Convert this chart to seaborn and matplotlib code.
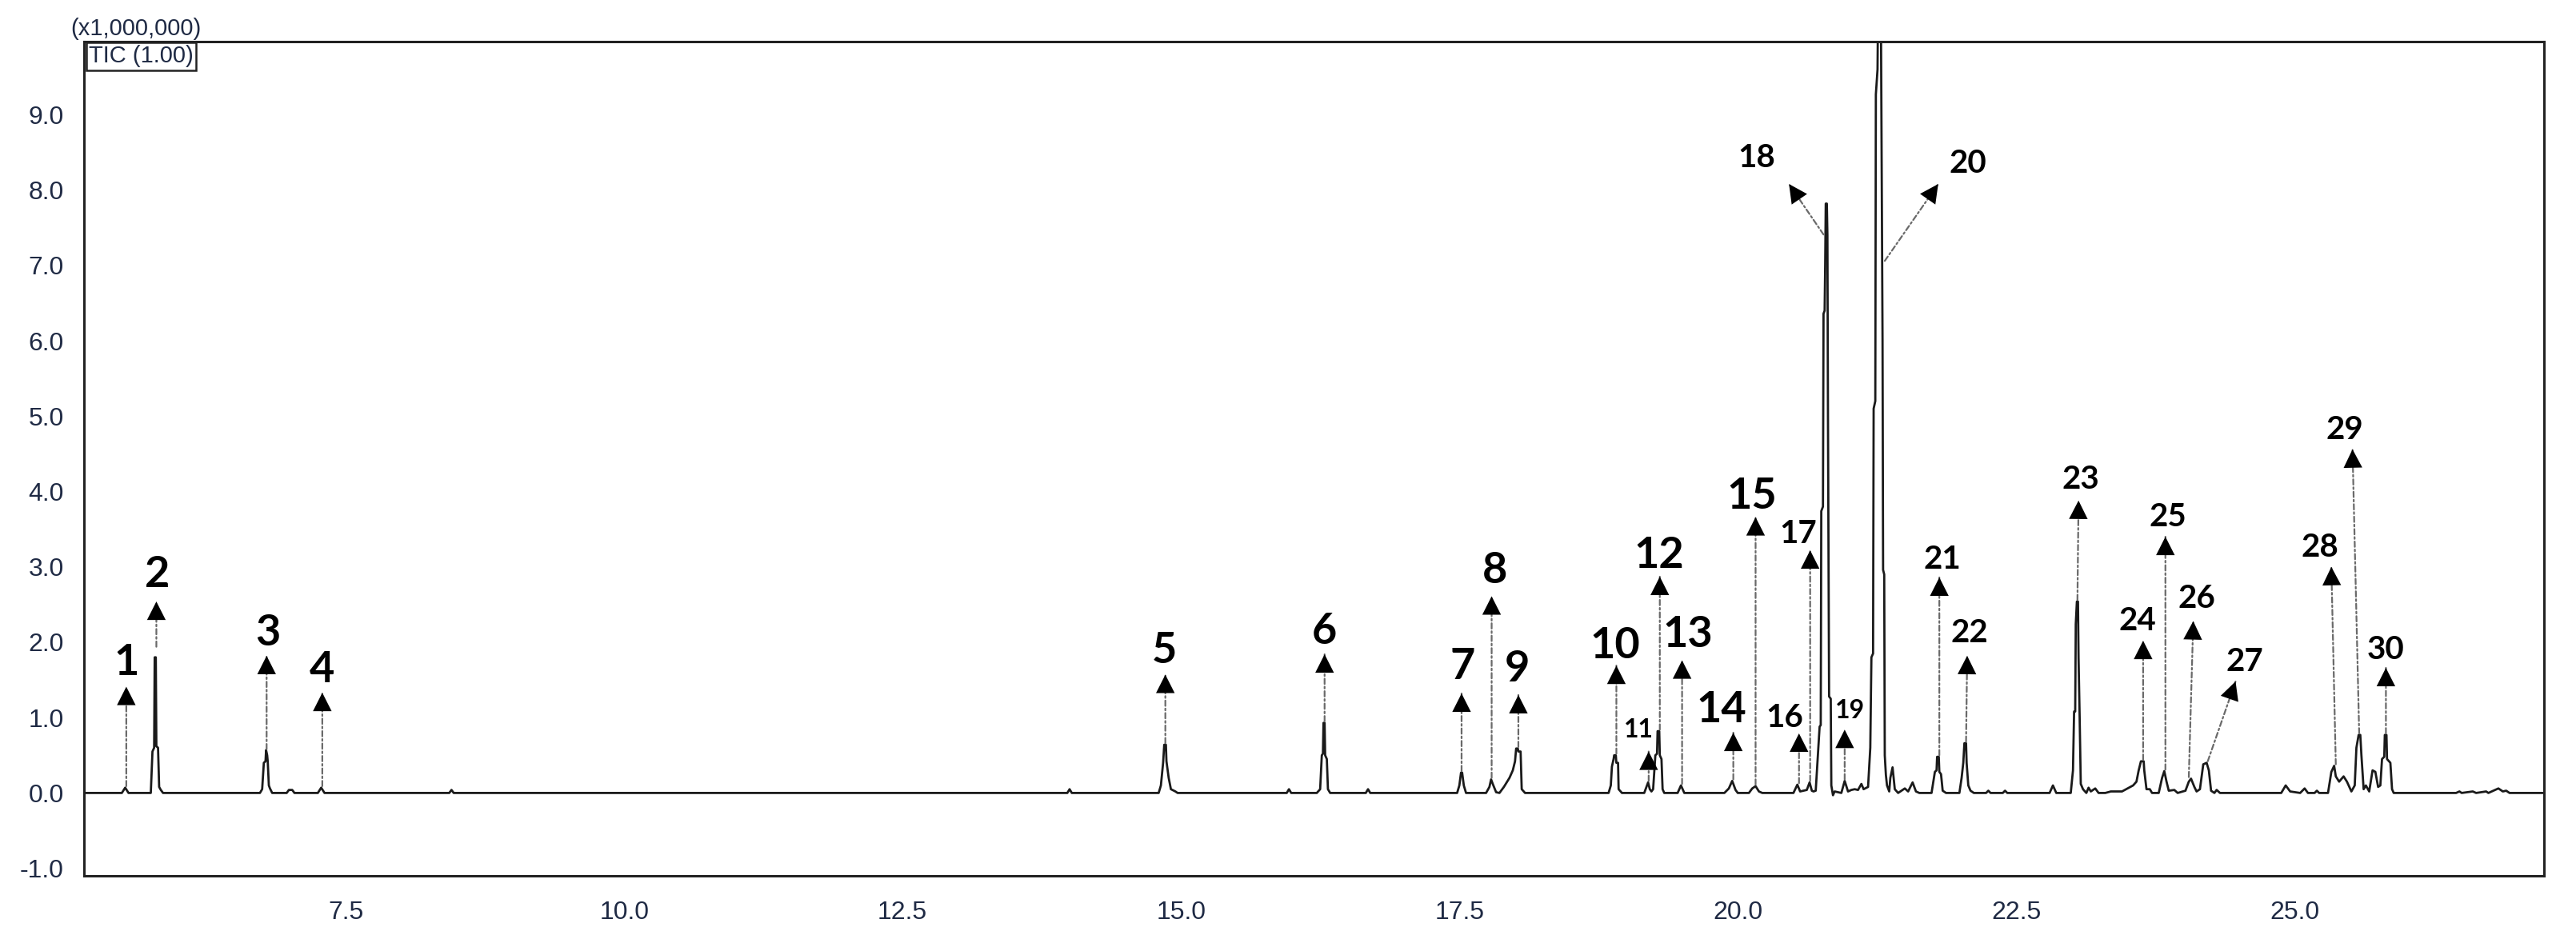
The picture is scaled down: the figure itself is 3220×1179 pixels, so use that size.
import matplotlib
matplotlib.use("Agg")
import matplotlib.pyplot as plt
from matplotlib import font_manager
from matplotlib.ticker import MultipleLocator, FormatStrFormatter
import seaborn as sns

# TIC trace: retention time (min) / intensity (x1,000,000)
rt_min = [
    5.15, 5.49, 5.52, 5.55, 5.75, 5.765, 5.78, 5.785, 5.795, 5.80, 5.815, 5.825, 5.84, 5.86,
    6.73, 6.75, 6.765, 6.78, 6.785, 6.795, 6.80, 6.81, 6.82, 6.84, 6.97, 6.99, 7.02, 7.04, 7.25, 7.28, 7.31, 8.43, 8.45, 8.47, 13.98, 14.00, 14.02,
    14.80, 14.82, 14.84, 14.85, 14.865, 14.87, 14.89, 14.91, 14.95, 14.97, 15.95, 15.97, 15.99, 16.22, 16.25, 16.265, 16.275, 16.28, 16.29, 16.295, 16.31, 16.32, 16.34, 16.66, 16.68, 16.70,
    17.48, 17.50, 17.515, 17.525, 17.54, 17.56, 17.74, 17.77, 17.785, 17.80, 17.83, 17.86, 17.90, 17.95, 17.98, 18.00, 18.01, 18.025, 18.03, 18.05, 18.06, 18.09,
    18.84, 18.86, 18.87, 18.885, 18.89, 18.905, 18.91, 18.925, 18.93, 18.96, 19.16, 19.18, 19.195, 19.21, 19.225, 19.24, 19.26, 19.275, 19.28, 19.295, 19.30, 19.315, 19.325, 19.34, 19.46, 19.49, 19.52,
    19.88, 19.92, 19.95, 19.98, 20.00, 20.10, 20.13, 20.16, 20.19, 20.22, 20.50, 20.535, 20.56, 20.62, 20.645, 20.665, 20.68,
    20.70, 20.735, 20.745, 20.75, 20.765, 20.77, 20.78, 20.785, 20.79, 20.80, 20.805, 20.81, 20.82, 20.835, 20.84, 20.855, 20.87, 20.93, 20.96, 20.99, 21.02, 21.05, 21.08, 21.11, 21.13,
    21.17, 21.19, 21.20, 21.215, 21.22, 21.235, 21.24, 21.255, 21.26, 21.285, 21.29, 21.30, 21.305, 21.315, 21.32, 21.33, 21.34,
    21.36, 21.37, 21.39, 21.41, 21.44, 21.50, 21.53, 21.57, 21.60, 21.63, 21.74, 21.77, 21.785, 21.79, 21.805, 21.81, 21.825, 21.84, 21.87, 21.99, 22.01, 22.025, 22.035, 22.05, 22.055, 22.07, 22.09, 22.12,
    22.23, 22.25, 22.27, 22.38, 22.40, 22.42, 22.80, 22.83, 22.86, 22.99, 23.01, 23.02, 23.03, 23.035, 23.045, 23.055, 23.06, 23.07, 23.08, 23.10, 23.13, 23.15, 23.17, 23.21, 23.24, 23.30, 23.35, 23.45, 23.50,
    23.55, 23.58, 23.60, 23.62, 23.645, 23.65, 23.67, 23.70, 23.72, 23.78, 23.81, 23.83, 23.85, 23.87, 23.92, 23.95, 24.02, 24.05, 24.07, 24.10, 24.12, 24.15, 24.18, 24.21, 24.23, 24.25, 24.28, 24.30, 24.33,
    24.88, 24.92, 24.96, 25.05, 25.09, 25.12, 25.18, 25.20, 25.22, 25.30, 25.33, 25.355, 25.37, 25.40, 25.44, 25.47, 25.51, 25.54, 25.555, 25.575, 25.59, 25.60, 25.62, 25.64, 25.67, 25.70, 25.725, 25.75, 25.77, 25.785, 25.805, 25.81, 25.825, 25.83, 25.86, 25.875, 25.89,
    26.45, 26.48, 26.50, 26.60, 26.63, 26.72, 26.74, 26.83, 26.87, 26.90, 26.93, 27.30,
]
tic = [
    0.00, 0.00, 0.07, 0.00, 0.00, 0.55, 0.60, 1.80, 1.80, 0.62, 0.60, 0.08, 0.04, 0.00,
    0.00, 0.05, 0.40, 0.42, 0.57, 0.50, 0.42, 0.10, 0.06, 0.00, 0.00, 0.04, 0.04, 0.00, 0.00, 0.07, 0.00, 0.00, 0.04, 0.00, 0.00, 0.05, 0.00,
    0.00, 0.10, 0.40, 0.64, 0.64, 0.42, 0.20, 0.05, 0.02, 0.00, 0.00, 0.05, 0.00, 0.00, 0.05, 0.50, 0.52, 0.93, 0.93, 0.50, 0.45, 0.05, 0.00, 0.00, 0.05, 0.00,
    0.00, 0.10, 0.27, 0.27, 0.10, 0.00, 0.00, 0.08, 0.18, 0.12, 0.01, 0.00, 0.08, 0.20, 0.30, 0.42, 0.59, 0.59, 0.55, 0.55, 0.05, 0.00,
    0.00, 0.10, 0.35, 0.45, 0.50, 0.50, 0.40, 0.40, 0.05, 0.00, 0.00, 0.08, 0.14, 0.05, 0.02, 0.05, 0.50, 0.52, 0.82, 0.82, 0.50, 0.45, 0.05, 0.00, 0.00, 0.10, 0.00,
    0.00, 0.06, 0.16, 0.04, 0.00, 0.00, 0.06, 0.09, 0.02, 0.00, 0.00, 0.11, 0.02, 0.04, 0.14, 0.03, 0.02,
    0.03, 0.88, 0.90, 3.74, 3.80, 6.36, 6.40, 7.00, 7.82, 7.82, 7.40, 5.00, 1.28, 1.25, 0.10, -0.03, 0.02, 0.00, 0.16, 0.02, 0.04, 0.05, 0.04, 0.12, 0.05,
    0.08, 0.60, 1.80, 1.85, 5.10, 5.20, 9.27, 9.60, 10.50, 10.50, 9.00, 6.00, 2.96, 2.90, 0.50, 0.24, 0.10,
    0.02, 0.20, 0.34, 0.05, 0.00, 0.06, 0.02, 0.14, 0.02, 0.00, 0.00, 0.28, 0.30, 0.48, 0.48, 0.28, 0.25, 0.03, 0.00, 0.00, 0.20, 0.40, 0.66, 0.66, 0.40, 0.10, 0.03, 0.00,
    0.00, 0.03, 0.00, 0.00, 0.03, 0.00, 0.00, 0.10, 0.00, 0.00, 0.30, 1.08, 1.08, 2.24, 2.54, 2.54, 1.80, 1.00, 0.12, 0.05, 0.00, 0.07, 0.02, 0.06, 0.00, 0.00, 0.02, 0.02, 0.06,
    0.10, 0.15, 0.30, 0.42, 0.42, 0.30, 0.05, 0.05, 0.00, 0.00, 0.20, 0.29, 0.15, 0.03, 0.04, 0.00, 0.03, 0.15, 0.19, 0.08, 0.02, 0.05, 0.38, 0.40, 0.30, 0.03, 0.00, 0.04, 0.00,
    0.00, 0.10, 0.02, 0.00, 0.06, 0.00, 0.00, 0.03, 0.00, 0.00, 0.28, 0.36, 0.22, 0.15, 0.22, 0.15, 0.02, 0.10, 0.60, 0.77, 0.77, 0.50, 0.05, 0.10, 0.02, 0.30, 0.28, 0.08, 0.10, 0.45, 0.48, 0.77, 0.77, 0.45, 0.40, 0.05, 0.00,
    0.00, 0.02, 0.00, 0.02, 0.00, 0.02, 0.00, 0.06, 0.02, 0.03, 0.00, 0.00,
]

# numbered peaks: where each arrow starts on the trace
peak_ids = [str(i) for i in range(1, 31)]
peak_rt = [5.53, 5.80, 6.79, 7.29, 14.86, 16.29, 17.52, 17.79, 18.03, 18.91,
           19.20, 19.30, 19.50, 19.96, 20.16, 20.55, 20.65, 20.77, 20.96, 21.32,
           21.81, 22.05, 23.05, 23.64, 23.84, 24.05, 24.22, 25.37, 25.58, 25.82]
peak_h = [0.09, 1.94, 0.58, 0.09, 0.66, 0.95, 0.29, 0.20, 0.61, 0.52,
          0.16, 0.84, 0.12, 0.18, 0.11, 0.13, 0.16, 7.41, 0.18, 7.06,
          0.50, 0.68, 2.56, 0.44, 0.31, 0.21, 0.42, 0.38, 0.79, 0.79]

# layout: arrow tips and label centres
tip_x = [5.53, 5.80, 6.79, 7.29, 14.86, 16.29, 17.52, 17.79, 18.03, 18.91,
         19.20, 19.30, 19.50, 19.96, 20.16, 20.55, 20.65, 20.46, 20.96, 21.80,
         21.81, 22.06, 23.06, 23.64, 23.84, 24.09, 24.47, 25.33, 25.52, 25.82]
tip_y = [1.41, 2.54, 1.82, 1.33, 1.57, 1.84, 1.32, 2.61, 1.30, 1.69,
         0.55, 2.87, 1.76, 0.80, 3.66, 0.79, 3.22, 8.08, 0.84, 8.08,
         2.86, 1.82, 3.88, 2.02, 3.40, 2.28, 1.48, 3.00, 4.56, 1.66]
lab_x = [5.53, 5.81, 6.80, 7.29, 14.85, 16.29, 17.53, 17.82, 18.02, 18.90,
         19.11, 19.29, 19.55, 19.85, 20.13, 20.42, 20.54, 20.17, 21.01, 22.07,
         21.84, 22.08, 23.08, 23.59, 23.86, 24.12, 24.55, 25.23, 25.45, 25.82]
lab_y = [1.73, 2.90, 2.12, 1.63, 1.89, 2.14, 1.68, 2.95, 1.64, 1.95,
         0.84, 3.15, 2.10, 1.10, 3.94, 1.00, 3.44, 8.43, 1.09, 8.35,
         3.10, 2.12, 4.16, 2.28, 3.66, 2.58, 1.74, 3.26, 4.82, 1.90]
big = {'1', '2', '3', '4', '5', '6', '7', '8', '9', '10', '12', '13', '14', '15'}
small = {'11', '19'}

sns.set_theme(style="white")
installed = {f.name for f in font_manager.fontManager.ttflist}
axis_font = 'Liberation Sans Narrow' if 'Liberation Sans Narrow' in installed else 'Liberation Sans'
plt.rcParams['font.family'] = [axis_font, 'DejaVu Sans']

fig = plt.figure(figsize=(32.2, 11.79), dpi=100)
ax = fig.add_axes([0.0326, 0.0712, 0.955, 0.8847])

sns.lineplot(x=rt_min, y=tic, ax=ax, color='#1a1a1a', linewidth=2.0,
             estimator=None, sort=False)

ax.set_xlim(5.15, 27.24)
ax.set_ylim(-1.1, 9.97)
ax.xaxis.set_major_locator(MultipleLocator(2.5))
ax.xaxis.set_minor_locator(MultipleLocator(0.5))
ax.yaxis.set_major_locator(MultipleLocator(1.0))
ax.yaxis.set_minor_locator(MultipleLocator(0.2))
ax.xaxis.set_major_formatter(FormatStrFormatter('%.1f'))
ax.yaxis.set_major_formatter(FormatStrFormatter('%.1f'))
ax.tick_params(which='major', direction='out', length=13, width=1.8,
               labelsize=23, labelcolor='#1f2a44', color='#222222', pad=5)
ax.tick_params(which='minor', direction='out', length=6.5, width=1.8, color='#222222')
ax.tick_params(axis='x', which='major', pad=9)
for s in ax.spines.values():
    s.set_color('#222222')
    s.set_linewidth(2.2)
ax.set_xlabel('')
ax.set_ylabel('')

for lab, px, py, hx, hy, lx, ly in zip(peak_ids, peak_rt, peak_h, tip_x, tip_y, lab_x, lab_y):
    # dashed leader line
    ax.annotate('', xy=(hx, hy), xytext=(px, py),
                arrowprops=dict(arrowstyle='-', shrinkA=0, shrinkB=0,
                                color='#6a6a6a', linewidth=1.6,
                                linestyle=(0, (3, 1.5, 1, 1.5))))
    # solid black arrow head
    ax.annotate('', xy=(hx, hy), xytext=(px, py),
                arrowprops=dict(arrowstyle='-|>,head_length=0.83,head_width=0.42',
                                mutation_scale=20, shrinkA=0, shrinkB=0,
                                color='black', linewidth=0))
    size = 39 if lab in big else (23 if lab in small else 29)
    ax.text(lx, ly, lab, ha='center', va='center', fontsize=size,
            fontweight='bold', family=['Lato', 'DejaVu Sans'], color='black')

ax.text(0.002, 0.996, 'TIC (1.00)', transform=ax.transAxes, ha='left', va='top',
        fontsize=21, color='#1f2a44',
        bbox=dict(boxstyle='square,pad=0.12', fc='white', ec='#222222', lw=1.8))
fig.text(88 / 3220, 1 - 50 / 1179, '(x1,000,000)', ha='left', va='bottom',
         fontsize=21, color='#1f2a44')

fig.savefig('out.png', dpi=100)
